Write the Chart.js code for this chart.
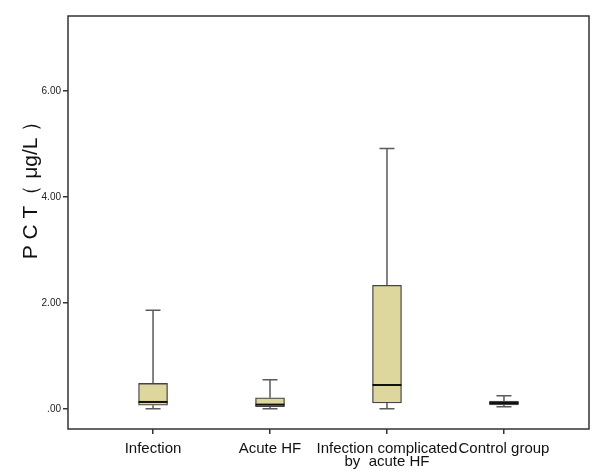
<!DOCTYPE html>
<html>
<head>
<meta charset="utf-8">
<script src="https://cdn.jsdelivr.net/npm/chart.js@4.4.1/dist/chart.umd.min.js"></script>
<style>
  html, body { margin: 0; padding: 0; background: #fff; }
  #wrap { width: 600px; height: 476px; }
</style>
</head>
<body>
<div id="wrap"><canvas id="chart"></canvas></div>
<script>
// groups and their box-plot summaries
const groups = ["Infection", "Acute HF", ["Infection complicated", "by  acute HF"], "Control group"];
const minVals = [0.00, 0.00, 0.00, 0.04];
const q1Vals = [0.07, 0.04, 0.11, 0.075];
const medianVals = [0.13, 0.08, 0.45, 0.11];
const q3Vals = [0.48, 0.21, 2.33, 0.145];
const maxVals = [1.86, 0.55, 4.91, 0.245];
const yTicks = [0, 2, 4, 6];
const yTickLabels = [".00", "2.00", "4.00", "6.00"];

const boxFill = "#ddd79d";
const lineColor = "#5a5a5a";
const fontFamily = "'Liberation Sans', Arial, sans-serif";

const boxPlotExtras = {
    id: "boxPlotExtras",
    beforeDatasetsDraw(chart) {
        const { ctx, scales: { x, y } } = chart;
        ctx.save();
        // whiskers
        ctx.strokeStyle = lineColor;
        ctx.lineWidth = 1.5;
        groups.forEach((_, i) => {
            const cx = x.getPixelForValue(i);
            const capHalf = 7.5;
            [[maxVals[i], q3Vals[i]], [minVals[i], q1Vals[i]]].forEach(([end, edge]) => {
                const ye = y.getPixelForValue(end);
                const yb = y.getPixelForValue(edge);
                ctx.beginPath();
                ctx.moveTo(cx, ye);
                ctx.lineTo(cx, yb);
                ctx.moveTo(cx - capHalf, ye);
                ctx.lineTo(cx + capHalf, ye);
                ctx.stroke();
            });
        });
        ctx.restore();
    },
    afterDatasetsDraw(chart) {
        const { ctx, chartArea, scales: { x, y } } = chart;
        ctx.save();
        // medians
        ctx.strokeStyle = "#111";
        ctx.lineWidth = 2;
        groups.forEach((_, i) => {
            const cx = x.getPixelForValue(i);
            const ym = y.getPixelForValue(medianVals[i]);
            ctx.beginPath();
            ctx.moveTo(cx - 14.5, ym);
            ctx.lineTo(cx + 14.5, ym);
            ctx.stroke();
        });
        // frame
        ctx.strokeStyle = "#333";
        ctx.lineWidth = 1.5;
        ctx.strokeRect(chartArea.left, chartArea.top, chartArea.right - chartArea.left, chartArea.bottom - chartArea.top);
        // y title
        ctx.fillStyle = "#111";
        ctx.font = "21px " + fontFamily;
        ctx.textAlign = "center";
        ctx.textBaseline = "middle";
        ctx.translate(31, 185);
        ctx.rotate(-Math.PI / 2);
        ctx.fillText("P C T（ μg/L ）", 0, 0);
        ctx.restore();
    }
};

new Chart(document.getElementById("chart"), {
    type: "bar",
    data: {
        datasets: [{
            data: groups.map((_, i) => ({ x: i, y: [q1Vals[i], q3Vals[i]] })),
            backgroundColor: boxFill,
            borderColor: "#444",
            borderWidth: 1.3,
            borderSkipped: false,
            barThickness: 29
        }]
    },
    options: {
        responsive: true,
        maintainAspectRatio: false,
        animation: false,
        layout: { padding: { top: 16, right: 11, left: 0, bottom: 0 } },
        plugins: { legend: { display: false }, tooltip: { enabled: false } },
        scales: {
            x: {
                type: "linear",
                offset: false,
                min: -0.727,
                max: 3.727,
                afterBuildTicks: s => { s.ticks = groups.map((_, i) => ({ value: i })); },
                afterFit: s => { s.height = 47; },
                grid: { offset: false, drawOnChartArea: false, color: "#333", tickLength: 5, lineWidth: 1.5 },
                border: { display: false },
                ticks: {
                    color: "#111",
                    font: { family: fontFamily, size: 15, lineHeight: 0.9 },
                    padding: 8,
                    maxRotation: 0,
                    autoSkip: false,
                    callback: v => groups[v]
                }
            },
            y: {
                min: -0.38,
                max: 7.41,
                afterBuildTicks: s => { s.ticks = yTicks.map(v => ({ value: v })); },
                afterFit: s => { s.width = 68; },
                grid: { drawOnChartArea: false, color: "#333", tickLength: 5, lineWidth: 1.5 },
                border: { display: false },
                ticks: {
                    color: "#222",
                    font: { family: fontFamily, size: 10 },
                    padding: 2,
                    callback: v => yTickLabels[yTicks.indexOf(v)]
                }
            }
        }
    },
    plugins: [boxPlotExtras]
});
</script>
</body>
</html>
